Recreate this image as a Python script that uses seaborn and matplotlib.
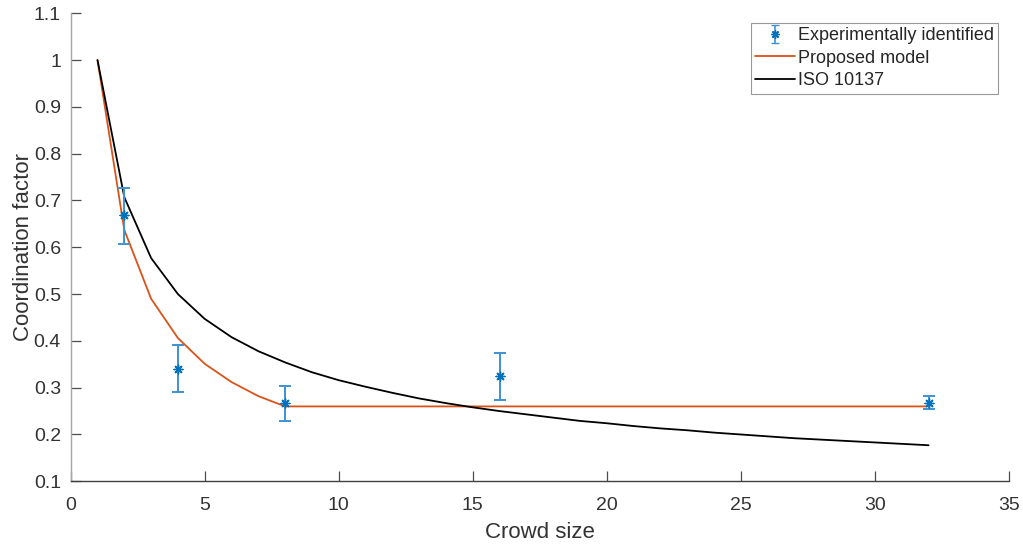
import numpy as np
import pandas as pd
import seaborn as sns
import matplotlib
matplotlib.use("Agg")
import matplotlib.pyplot as plt
from matplotlib.lines import Line2D

# ---- data ----
exp_x = [2, 4, 8, 16, 32]
exp_y = [0.669, 0.341, 0.267, 0.324, 0.268]
exp_lo = [0.607, 0.290, 0.228, 0.274, 0.254]
exp_hi = [0.726, 0.392, 0.304, 0.374, 0.283]

model_x = [1, 2, 3, 4, 5, 6, 7, 8, 32]
model_y = [1.0, 0.637, 0.490, 0.406, 0.351, 0.312, 0.282, 0.260, 0.260]

iso_x = list(range(1, 33))
iso_y = [1.000, 0.707, 0.577, 0.500, 0.447, 0.408, 0.378, 0.354, 0.333, 0.316,
         0.302, 0.289, 0.277, 0.267, 0.258, 0.250, 0.243, 0.236, 0.229, 0.224,
         0.218, 0.213, 0.209, 0.204, 0.200, 0.196, 0.192, 0.189, 0.186, 0.183,
         0.180, 0.177]

x_ticks = [0, 5, 10, 15, 20, 25, 30, 35]
y_ticks = [0.1, 0.2, 0.3, 0.4, 0.5, 0.6, 0.7, 0.8, 0.9, 1.0, 1.1]
y_tick_labels = ["0.1", "0.2", "0.3", "0.4", "0.5", "0.6", "0.7", "0.8", "0.9", "1", "1.1"]

sns.set_style("ticks", {"xtick.direction": "in", "ytick.direction": "in"})
plt.rcParams['font.family'] = ['Liberation Sans', 'DejaVu Sans']

fig = plt.figure(figsize=(10.23, 5.45), dpi=100)
ax = fig.add_axes([0.0691, 0.1169, 0.9172, 0.8587])

blue = "#0072BD"
err_blue = "#3E92D3"
orange = "#D95319"
star = (8, 2, 0)

err = np.array([np.array(exp_y) - np.array(exp_lo), np.array(exp_hi) - np.array(exp_y)])
ax.errorbar(exp_x, exp_y, yerr=err, fmt='none', ecolor=err_blue, elinewidth=1.4,
            capsize=4, capthick=1.4, zorder=3)
sns.scatterplot(x=exp_x, y=exp_y, ax=ax, marker=star, s=40, color=blue,
                linewidth=1.0, zorder=4)

sns.lineplot(x=model_x, y=model_y, ax=ax, color=orange, linewidth=1.3,
             estimator=None, sort=False, zorder=2)
sns.lineplot(x=iso_x, y=iso_y, ax=ax, color="black", linewidth=1.3,
             estimator=None, sort=False, zorder=2)

# legend handles
h_exp = ax.errorbar([np.nan], [np.nan], yerr=[np.nan], marker=star, linestyle='none',
                    color=blue, ecolor=err_blue, markersize=6, capsize=3, elinewidth=1.2)
h_model = Line2D([], [], color=orange, lw=1.3)
h_iso = Line2D([], [], color="black", lw=1.3)
leg = ax.legend([h_exp, h_model, h_iso],
                ["Experimentally identified", "Proposed model", "ISO 10137"],
                loc="upper right", bbox_to_anchor=(0.9885, 0.980), fontsize=13,
                frameon=True, fancybox=False, framealpha=1, borderpad=0.25,
                handlelength=2.2, handletextpad=0.15, labelspacing=0.3,
                borderaxespad=0)
leg.get_frame().set_edgecolor("0.6")
leg.get_frame().set_linewidth(0.8)

ax.set_xlim(0, 35)
ax.set_ylim(0.1, 1.1)
ax.set_xticks(x_ticks)
ax.set_yticks(y_ticks)
ax.set_yticklabels(y_tick_labels)
ax.tick_params(direction="in", length=7, width=0.9, colors="0.3", labelsize=14,
               labelcolor="0.2", bottom=True, left=True, top=False, right=False)
ax.tick_params(axis='x', pad=11)
ax.tick_params(axis='y', pad=7)
ax.set_xlabel("Crowd size", fontsize=16, color="0.2", labelpad=6)
ax.set_ylabel("Coordination factor", fontsize=16, color="0.2", labelpad=0)

for s in ["top", "right"]:
    ax.spines[s].set_visible(False)
ax.spines["left"].set_color("0.65")
ax.spines["bottom"].set_color("0.25")
ax.spines["left"].set_linewidth(1.0)
ax.spines["bottom"].set_linewidth(1.0)

fig.savefig("out.png", dpi=100)
